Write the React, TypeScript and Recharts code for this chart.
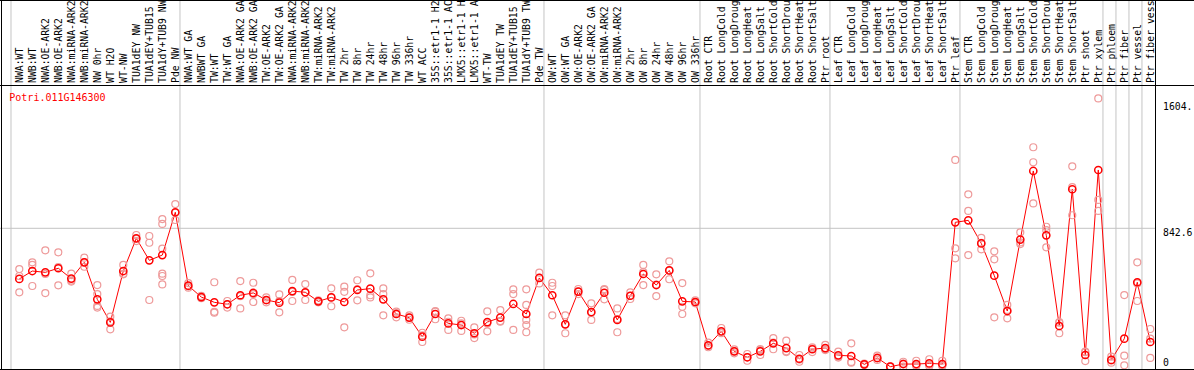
import { ComposedChart, Line, Scatter, XAxis, YAxis, ReferenceLine } from "recharts";

const geneId = "Potri.011G146300";

const categories = [
  "NWA:WT", "NWB:WT", "NWA:OE-ARK2", "NWB:OE-ARK2", "NWA:miRNA-ARK2", "NWB:miRNA-ARK2",
  "NW 0hr", "WT H2O", "WT-NW", "TUA1dEY NW", "TUA1dEY+TUB15 NW", "TUA1dY+TUB9 NW", "Pde NW",
  "NWA:WT GA", "NWBWT GA", "TW:WT", "TW:WT GA", "NWA:OE-ARK2 GA", "NWB:OE-ARK2 GA",
  "TW:OE-ARK2", "TW:OE-ARK2 GA", "NWA:miRNA-ARK2 GA", "NWB:miRNA-ARK2 GA", "TW:miRNA-ARK2",
  "TW:miRNA-ARK2 GA", "TW 2hr", "TW 8hr", "TW 24hr", "TW 48hr", "TW 96hr", "TW 336hr", "WT ACC",
  "35S::etr1-1 H2O", "35S::etr1-1 ACC", "LMX5::etr1-1 H2O", "LMX5::etr1-1 ACC", "WT-TW",
  "TUA1dEY TW", "TUA1dEY+TUB15 TW", "TUA1dY+TUB9 TW", "Pde TW",
  "OW:WT", "OW:WT GA", "OW:OE-ARK2", "OW:OE-ARK2 GA", "OW:miRNA-ARK2", "OW:miRNA-ARK2 GA",
  "OW 2hr", "OW 8hr", "OW 24hr", "OW 48hr", "OW 96hr", "OW 336hr",
  "Root CTR", "Root LongCold", "Root LongDrought", "Root LongHeat", "Root LongSalt",
  "Root ShortCold", "Root ShortDrought", "Root ShortHeat", "Root ShortSalt", "Ptr root",
  "Leaf CTR", "Leaf LongCold", "Leaf LongDrought", "Leaf LongHeat", "Leaf LongSalt",
  "Leaf ShortCold", "Leaf ShortDrought", "Leaf ShortHeat", "Leaf ShortSalt", "Ptr leaf",
  "Stem CTR", "Stem LongCold", "Stem LongDrought", "Stem LongHeat", "Stem LongSalt",
  "Stem ShortCold", "Stem ShortDrought", "Stem ShortHeat", "Stem ShortSalt", "Ptr shoot",
  "Ptr xylem", "Ptr phloem", "Ptr fiber", "Ptr vessel", "Ptr fiber vessel",
];

const means = [
  535, 583, 575, 600, 537, 636, 411, 271, 583, 782, 648, 680, 940,
  494, 425, 393, 381, 436, 450, 407, 391, 461, 454, 399, 423, 395, 468, 476, 411, 322, 300,
  184, 322, 265, 255, 205, 273, 300, 383, 322, 541,
  436, 259, 458, 334, 451, 286, 433, 565, 498, 587, 399, 395,
  132, 217, 95, 59, 95, 144, 115, 50, 108, 115,
  71, 67, 16, 55, 2, 18, 18, 22, 18, 879,
  891, 751, 555, 340, 774, 1191, 800, 249, 1080, 73, 1197,
  43, 172, 515, 152,
];

const replicates = [
  [595, 553, 454], [636, 620, 492], [709, 565, 449], [697, 607, 496], [567, 525, 519],
  [664, 636, 609], [498, 443, 371, 361], [306, 278, 229], [620, 563, 566], [802, 779, 765],
  [796, 755, 407], [899, 869, 719, 567, 553, 502], [990, 937, 893],
  [510, 490, 482], [432, 425, 418], [515, 335, 330], [401, 381, 361], [522, 430, 356],
  [512, 443, 395], [423, 405, 393], [441, 400, 332], [529, 456, 401], [504, 452, 407],
  [405, 399, 393], [478, 423, 369], [488, 457, 241], [527, 472, 405], [569, 423, 436],
  [478, 443, 314], [336, 328, 302], [314, 300, 287], [208, 192, 152], [336, 340, 290],
  [296, 275, 225], [281, 265, 219], [241, 198, 176], [338, 264, 217], [346, 279, 275],
  [472, 443, 225], [472, 377, 286, 255, 211], [573, 542, 508],
  [512, 492, 314], [314, 259, 205], [474, 458, 443], [387, 329, 286], [474, 468, 411],
  [356, 291, 211], [453, 433, 413], [620, 577, 498], [563, 500, 431], [642, 586, 533],
  [510, 366, 322], [405, 393, 387],
  [148, 128, 120], [237, 209, 205], [107, 95, 83], [79, 60, 38], [109, 103, 73],
  [176, 148, 108], [160, 95, 91], [73, 45, 32], [120, 113, 91], [134, 108, 103],
  [93, 63, 57], [144, 31, 26], [20, 16, 12], [69, 53, 43], [4, 2, 0],
  [32, 20, 2], [38, 10, 6], [47, 13, 6], [38, 10, 6], [1258, 721, 660],
  [1049, 948, 680], [784, 754, 715], [703, 654, 302], [377, 347, 296], [818, 757, 747],
  [1335, 1244, 994], [852, 831, 727], [273, 269, 205], [1219, 1093, 922], [93, 90, 36],
  [1632, 1015, 948],
  [63, 40, 26], [437, 69, 10], [636, 508, 401], [231, 172, 55],
];

// first category index of each sample group
const groupStarts = [0, 13, 41, 53, 63, 73, 84, 85, 86, 87];
const yTicks = [0, 842.6, 1604];
const yTickLabels = ["0", "842.6", "1604."];

const meanData = means.map((v, i) => ({ i, v }));
const repData = replicates.flatMap((r, i) => r.map((v) => ({ i, v })));

const MONO = "DejaVu Sans Mono";

function CategoryTick(props: any) {
  const { x, payload } = props;
  const bx = x + 4;
  return (
    <text
      x={bx}
      y={83}
      transform={`rotate(-90 ${bx} 83)`}
      fontFamily={MONO}
      fontSize={9.8}
      fill="#000"
      textAnchor="start"
    >
      {categories[payload.value]}
    </text>
  );
}

function ValueTick(props: any) {
  const { y, payload, index } = props;
  return (
    <text x={1163} y={Math.min(y + 7.5, 365.5)} fontFamily={MONO} fontSize={9.8} fill="#000">
      {yTickLabels[index] ?? String(payload.value)}
    </text>
  );
}

const repDot = (p: any) => (
  <circle cx={p.cx} cy={p.cy} r={3.5} fill="none" stroke="#ee9a9a" strokeWidth={1.2} />
);

const meanDot = (p: any) => (
  <circle key={p.index} cx={p.cx} cy={p.cy} r={3.6} fill="none" stroke="#ff0000" strokeWidth={1.5} />
);

export default function App() {
  return (
    <div style={{ position: "absolute", left: 0, top: 0, width: 1194, height: 370, background: "#fff" }}>
      <ComposedChart width={1194} height={370} margin={{ top: 0, right: 0, bottom: 0, left: 0 }}>
        <XAxis
          dataKey="i"
          type="number"
          orientation="top"
          height={1}
          domain={[-1.485, 87.44]}
          allowDataOverflow
          ticks={categories.map((_, i) => i)}
          interval={0}
          tick={<CategoryTick />}
          axisLine={false}
          tickLine={false}
        />
        <YAxis
          orientation="right"
          width={38}
          type="number"
          domain={[-18.2, 2223.6]}
          allowDataOverflow
          ticks={yTicks}
          interval={0}
          tick={<ValueTick />}
          axisLine={false}
          tickLine={false}
        />
        {groupStarts.map((s) => (
          <ReferenceLine key={s} x={s - 0.64} stroke="#c4c4c4" strokeWidth={1} />
        ))}
        <ReferenceLine y={842.6} stroke="#c4c4c4" strokeWidth={1} />
        <Scatter data={repData} dataKey="v" shape={repDot} isAnimationActive={false} />
        <Line
          data={meanData}
          dataKey="v"
          type="linear"
          stroke="#ff0000"
          strokeWidth={1}
          dot={meanDot}
          activeDot={false}
          isAnimationActive={false}
        />
      </ComposedChart>
      <svg
        width={1194}
        height={370}
        style={{ position: "absolute", left: 0, top: 0, pointerEvents: "none" }}
      >
        <line x1={1.5} y1={0} x2={1.5} y2={370} stroke="#000" />
        <line x1={1155.5} y1={0} x2={1155.5} y2={369} stroke="#000" />
        <line x1={0} y1={0.5} x2={1194} y2={0.5} stroke="#000" />
        <line x1={0} y1={85.5} x2={1194} y2={85.5} stroke="#000" />
        <line x1={0} y1={369.5} x2={1194} y2={369.5} stroke="#000" />
        <text x={9.3} y={100.5} fontFamily={MONO} fontSize={10} fill="#ff0000">
          {geneId}
        </text>
      </svg>
    </div>
  );
}
